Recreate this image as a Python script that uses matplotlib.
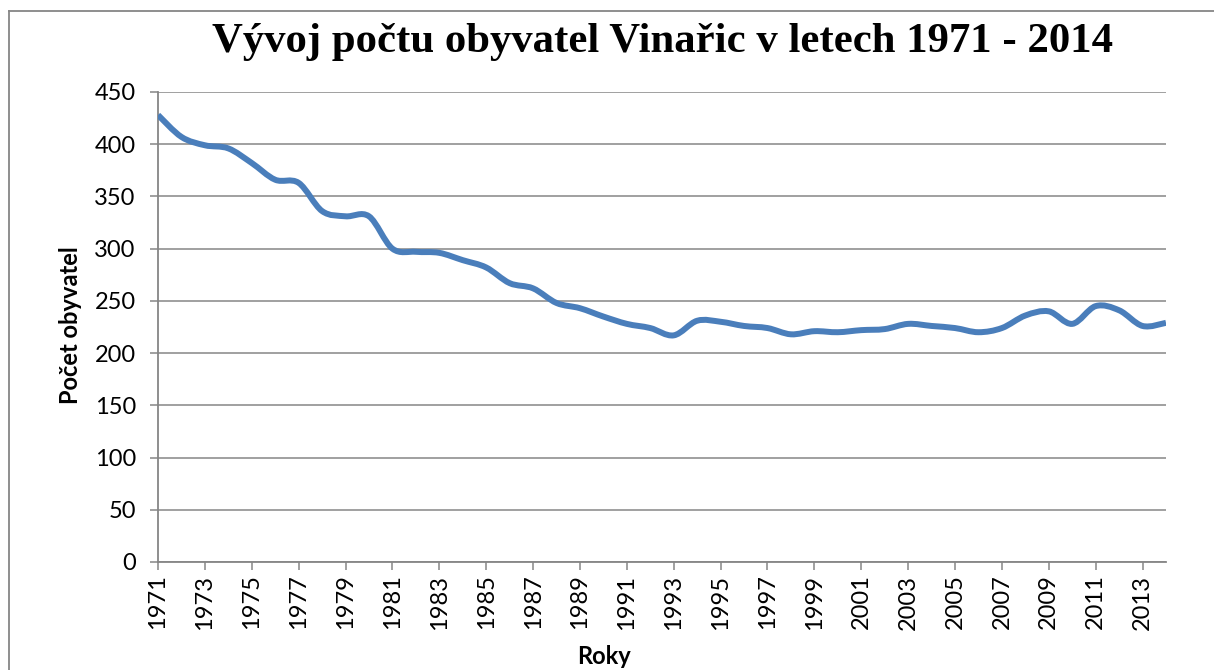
import matplotlib
matplotlib.use("Agg")
import matplotlib.pyplot as plt
from matplotlib.path import Path
from matplotlib.patches import PathPatch
from matplotlib.lines import Line2D
import numpy as np

years = list(range(1971, 2015))
population = [428, 407, 399, 396, 382, 366, 363, 336, 331, 331,
              300, 297, 296, 289, 282, 267, 262, 248, 243, 235,
              228, 224, 217, 231, 230, 226, 224, 218, 221, 220,
              222, 223, 228, 226, 224, 220, 224, 236, 240, 228,
              245, 241, 226, 229]
xtick_labels = [str(y) for y in years[::2]]
yticks = [0, 50, 100, 150, 200, 250, 300, 350, 400, 450]

title = "Vývoj počtu obyvatel Vinařic v letech 1971 - 2014"
ylabel = "Počet obyvatel"
xlabel = "Roky"

GRAY = "#868686"
BLUE = "#4A7EBB"

fig = plt.figure(figsize=(12.14, 6.70), dpi=100)
ax = fig.add_axes([158/1214, 1-562/670, (1166-158)/1214, (562-92)/670])

# Smoothed line (Excel-style Catmull-Rom Bezier) through the data
x = np.array(years, dtype=float)
y = np.array(population, dtype=float)
n = len(x)
verts = [(x[0], y[0])]
codes = [Path.MOVETO]
for i in range(n - 1):
    i0 = max(i - 1, 0)
    i3 = min(i + 2, n - 1)
    c1 = (x[i] + (x[i+1] - x[i0]) / 6, y[i] + (y[i+1] - y[i0]) / 6)
    c2 = (x[i+1] - (x[i3] - x[i]) / 6, y[i+1] - (y[i3] - y[i]) / 6)
    verts += [c1, c2, (x[i+1], y[i+1])]
    codes += [Path.CURVE4] * 3
patch = PathPatch(Path(verts, codes), facecolor="none", edgecolor=BLUE,
                  lw=4.3, capstyle="butt", joinstyle="round", zorder=3)
ax.add_patch(patch)

ax.set_xlim(years[0], years[-1])
ax.set_ylim(0, 450)
ax.set_yticks(yticks)
ax.set_xticks(years[::2])
ax.set_xticklabels(xtick_labels, rotation=90, fontsize=17, family="Lato")
ax.set_yticklabels([str(v) for v in yticks], fontsize=17, family="Lato")

ax.grid(axis="y", color=GRAY, lw=1.1, zorder=1)
ax.set_axisbelow(True)
for s in ["top", "right"]:
    ax.spines[s].set_visible(False)
for s in ["left", "bottom"]:
    ax.spines[s].set_color(GRAY)
    ax.spines[s].set_linewidth(1.3)
ax.tick_params(axis="both", direction="out", length=6, width=1.1, color=GRAY,
               labelcolor="black")
ax.tick_params(axis="y", pad=10)
ax.tick_params(axis="x", pad=3)

fig.text(662/1214, 1-42/670, title, ha="center", va="center",
         fontsize=30.8, fontweight="bold", family="Liberation Serif")
fig.text(70/1214, 1-325/670, ylabel, ha="center", va="center", rotation=90,
         fontsize=17, fontweight="bold", family="Lato")
fig.text(604/1214, 1-657/670, xlabel, ha="center", va="center",
         fontsize=17, fontweight="bold", family="Lato")

# Outer chart border
fig.add_artist(Line2D([9/1214, 1.01], [1-11/670, 1-11/670], color=GRAY, lw=1.3,
                      transform=fig.transFigure))
fig.add_artist(Line2D([9/1214, 9/1214], [1-11/670, -0.01], color=GRAY, lw=1.3,
                      transform=fig.transFigure))

fig.savefig("out.png", dpi=100)
